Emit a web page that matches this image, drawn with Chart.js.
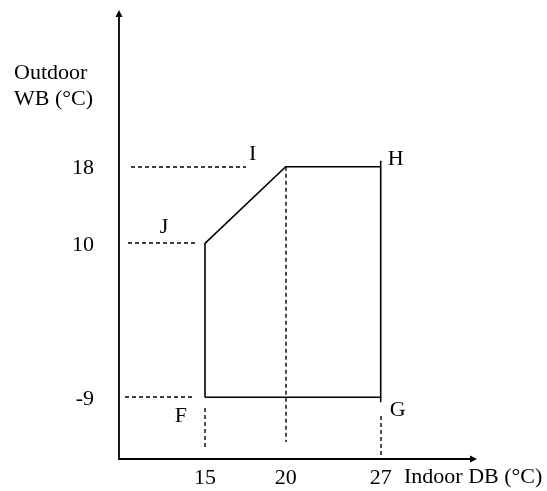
<!DOCTYPE html>
<html>
<head>
<meta charset="utf-8">
<script src="https://cdn.jsdelivr.net/npm/chart.js@4.4.0/dist/chart.umd.min.js"></script>
<style>
  html, body { margin: 0; padding: 0; background: #fff; }
  #wrap { width: 547px; height: 491px; }
</style>
</head>
<body>
<div id="wrap"><canvas id="chart"></canvas></div>
<script>
// operating envelope corners (F, J, I, H, G)
const pointNames = ['F', 'J', 'I', 'H', 'G'];
const indoorDB = [15, 15, 20, 27, 27];
const outdoorWB = [-9, 10, 18, 18, -9];

const indoorTicks = [15, 20, 27];
const outdoorTicks = [-9, 10, 18];

const FONT = '22px "Liberation Serif", "Times New Roman", serif';

// the figure is a sketch, so the axes are not to scale: piecewise linear mapping
class PiecewiseScale extends Chart.LinearScale {
    getPixelForValue(value) {
        const k = this.options.knots;
        let i = 0;
        while (i < k.length - 2 && value > k[i + 1][0]) i++;
        const [v0, f0] = k[i];
        const [v1, f1] = k[i + 1];
        return this.getPixelForDecimal(f0 + (value - v0) / (v1 - v0) * (f1 - f0));
    }
}
PiecewiseScale.id = 'piecewise';
PiecewiseScale.defaults = Chart.LinearScale.defaults;
Chart.register(PiecewiseScale);

const envelope = indoorDB.map((x, i) => ({ x: x, y: outdoorWB[i] }));
envelope.push(envelope[0]);

const sketch = {
    id: 'sketch',
    afterDatasetsDraw(chart) {
        const ctx = chart.ctx;
        const { left, right, top, bottom } = chart.chartArea;
        const xs = chart.scales.x, ys = chart.scales.y;
        ctx.save();
        ctx.strokeStyle = '#000';
        ctx.fillStyle = '#000';

        // axes with arrow heads
        ctx.lineWidth = 1.8;
        ctx.beginPath();
        ctx.moveTo(left, top + 5);
        ctx.lineTo(left, bottom);
        ctx.lineTo(right - 5, bottom);
        ctx.stroke();
        ctx.beginPath();
        ctx.moveTo(left, top);
        ctx.lineTo(left - 3.5, top + 7);
        ctx.lineTo(left + 3.5, top + 7);
        ctx.closePath();
        ctx.fill();
        ctx.beginPath();
        ctx.moveTo(right, bottom);
        ctx.lineTo(right - 7, bottom - 3.5);
        ctx.lineTo(right - 7, bottom + 3.5);
        ctx.closePath();
        ctx.fill();

        // dashed guide lines
        ctx.lineWidth = 1.4;
        ctx.setLineDash([4, 3]);
        const hExtent = { '18': [131, 246], '10': [128, 197], '-9': [125, 192] };
        outdoorTicks.forEach(v => {
            const y = Math.round(ys.getPixelForValue(v));
            const e = hExtent[String(v)];
            ctx.beginPath();
            ctx.moveTo(e[0], y);
            ctx.lineTo(e[1], y);
            ctx.stroke();
        });
        const vExtent = { '15': [408, 449], '20': [ys.getPixelForValue(18), 442], '27': [416, 455] };
        indoorTicks.forEach(v => {
            const x = Math.round(xs.getPixelForValue(v));
            const e = vExtent[String(v)];
            ctx.beginPath();
            ctx.moveTo(x, e[0]);
            ctx.lineTo(x, e[1]);
            ctx.stroke();
        });
        ctx.setLineDash([]);

        // small overshoot of the right edge at H and G
        ctx.lineWidth = 1.6;
        const xr = xs.getPixelForValue(27);
        ctx.beginPath();
        ctx.moveTo(xr, ys.getPixelForValue(18) - 6);
        ctx.lineTo(xr, ys.getPixelForValue(18));
        ctx.moveTo(xr, ys.getPixelForValue(-9));
        ctx.lineTo(xr, ys.getPixelForValue(-9) + 5);
        ctx.stroke();

        // tick labels
        ctx.font = FONT;
        ctx.textAlign = 'center';
        ctx.textBaseline = 'alphabetic';
        indoorTicks.forEach(v => ctx.fillText(String(v), xs.getPixelForValue(v), 484));
        ctx.textAlign = 'right';
        ctx.textBaseline = 'middle';
        outdoorTicks.forEach(v => ctx.fillText(String(v), 94, ys.getPixelForValue(v) + 2));

        // axis titles
        ctx.textAlign = 'left';
        ctx.textBaseline = 'alphabetic';
        ctx.fillText('Outdoor', 14, 79);
        ctx.fillText('WB (°C)', 14, 105);
        ctx.fillText('Indoor DB (°C)', 404, 483);

        // corner letters
        const off = { F: [-24, 19], J: [-41, -16], I: [-33, -12], H: [15, -7], G: [17, 13] };
        ctx.textAlign = 'center';
        ctx.textBaseline = 'middle';
        pointNames.forEach((n, i) => {
            const px = xs.getPixelForValue(indoorDB[i]);
            const py = ys.getPixelForValue(outdoorWB[i]);
            ctx.fillText(n, px + off[n][0], py + off[n][1]);
        });
        ctx.restore();
    }
};

new Chart(document.getElementById('chart'), {
    type: 'scatter',
    data: {
        datasets: [{
            data: envelope,
            showLine: true,
            borderColor: '#000',
            borderWidth: 1.6,
            pointRadius: 0,
            fill: false,
            tension: 0
        }]
    },
    options: {
        responsive: true,
        maintainAspectRatio: false,
        animation: false,
        events: [],
        layout: { padding: { left: 119, right: 70, top: 10, bottom: 32 } },
        plugins: {
            legend: { display: false },
            tooltip: { enabled: false }
        },
        scales: {
            x: {
                type: 'piecewise',
                display: false,
                min: 10, max: 35,
                knots: [[10, 0], [15, 0.2402], [20, 0.4656], [27, 0.731], [35, 1]]
            },
            y: {
                type: 'piecewise',
                display: false,
                min: -20, max: 30,
                knots: [[-20, 0], [-9, 0.1374], [10, 0.4804], [18, 0.651], [30, 1]]
            }
        }
    },
    plugins: [sketch]
});
</script>
</body>
</html>
